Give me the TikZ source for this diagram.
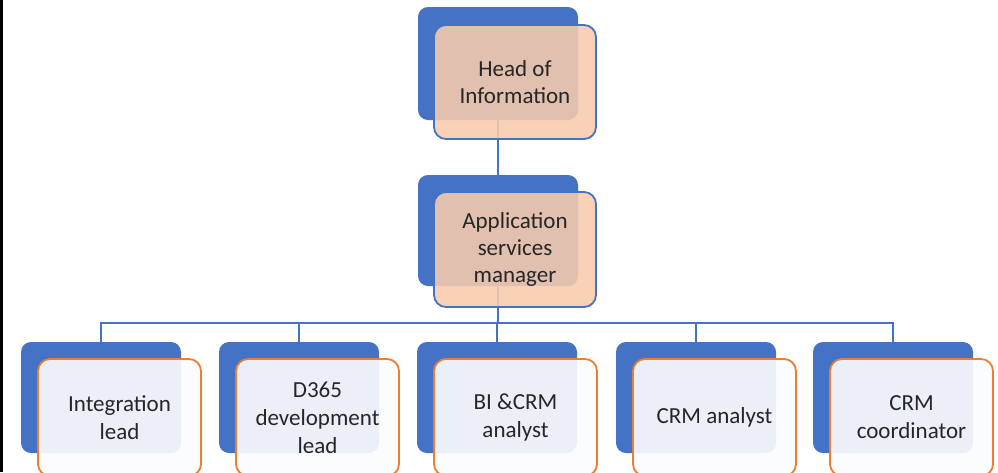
\documentclass[tikz,border=0pt]{standalone}
\usepackage{fontspec}
\setmainfont{Carlito}
\definecolor{obblue}{HTML}{4472C4}
\definecolor{oborange}{HTML}{ED7D31}
\definecolor{obpeach}{HTML}{F8CBAD}
\definecolor{oblight}{HTML}{FBFCFE}
\definecolor{obtext}{HTML}{262626}
\begin{document}
\begin{tikzpicture}[x=1pt,y=-1pt,
  backbox/.style={fill=obblue,draw=none,rounded corners=10pt,minimum width=160pt,inner sep=0pt},
  topfront/.style={fill=obpeach,fill opacity=0.88,text opacity=1,draw=obblue,line width=1.8pt,rounded corners=12pt,minimum width=162pt,minimum height=114pt,inner sep=0pt,align=center,text=obtext,font=\fontsize{23}{27}\selectfont},
  lowfront/.style={fill=oblight,fill opacity=0.91,text opacity=1,draw=oborange,line width=1.8pt,rounded corners=12pt,minimum width=163pt,minimum height=117pt,inner sep=0pt,align=center,text=obtext,font=\fontsize{23}{28}\selectfont},
  conn/.style={draw=obblue,line width=1.8pt}]
\useasboundingbox (0,0) rectangle (998,472);
\fill[white] (0,0) rectangle (998,472);
\draw[black,line width=2.5pt] (1.25,0) -- (1.25,472);
% back boxes
\node[backbox,minimum height=113pt] (hB) at (498,63.5) {};
\node[backbox,minimum height=111pt] (mB) at (498,230.5) {};
\node[backbox,minimum height=111pt] (b1) at (101,397.5) {};
\node[backbox,minimum height=111pt] (b2) at (299,397.5) {};
\node[backbox,minimum height=111pt] (b3) at (497,397.5) {};
\node[backbox,minimum height=111pt] (b4) at (696,397.5) {};
\node[backbox,minimum height=111pt] (b5) at (893,397.5) {};
% connectors
\coordinate (bus) at (498,323);
\draw[conn] (hB.south) -- (mB.north);
\draw[conn] (mB.south) -- (bus);
\draw[conn] (bus) -| (b1.north);
\draw[conn] (bus) -| (b2.north);
\draw[conn] (bus) -| (b3.north);
\draw[conn] (bus) -| (b4.north);
\draw[conn] (bus) -| (b5.north);
% front boxes
\node[topfront] (hF) at (515,82) {Head of\\Information};
\node[topfront,minimum height=115pt] (mF) at (515,249.5) {Application\\services\\manager};
\node[lowfront] (f1) at (119.5,417.5) {Integration\\lead};
\node[lowfront] (f2) at (317.5,417.5) {D365\\development\\lead};
\node[lowfront] (f3) at (515.5,417.5) {BI \&CRM\\analyst};
\node[lowfront] (f4) at (714.5,417.5) {CRM analyst};
\node[lowfront] (f5) at (911.5,417.5) {CRM\\coordinator};
\end{tikzpicture}
\end{document}
